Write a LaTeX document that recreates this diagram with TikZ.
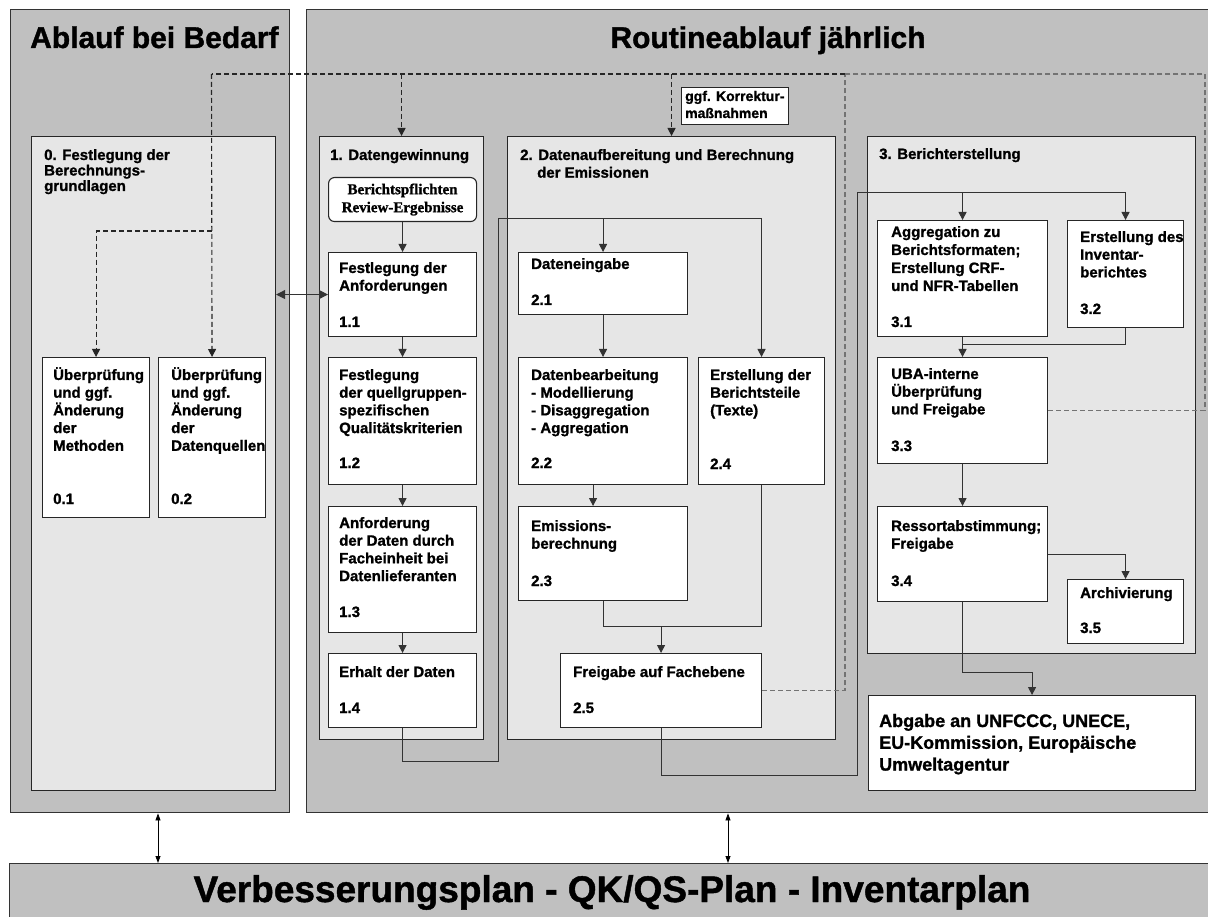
\documentclass[tikz,border=0pt]{standalone}
\usepackage{fontspec}
\setmainfont{Liberation Sans}[BoldFeatures={FakeBold=1.2}]
\newfontfamily\serifb{Liberation Serif}[BoldFeatures={FakeBold=1.2}]
\usetikzlibrary{arrows.meta,calc}
\definecolor{outerfill}{RGB}{192,192,192}
\definecolor{innerfill}{RGB}{230,230,230}
\newcommand\ml[2][17.7pt]{\vtop{\lineskiplimit=-30pt\baselineskip=#1\relax\let\\\cr\halign{##\hfil\cr#2\crcr}}}
\newcommand\bx[6]{\pgfmathsetmacro\bw{#5-#3}\pgfmathsetmacro\bh{#6-#4}\node[#1,anchor=north west,inner sep=0pt,minimum width=\bw pt,minimum height=\bh pt] (#2) at (#3,#4) {};}
\newcommand\tx[4]{\node[txt] (#1) at (#2,#3) {\ml{#4}};}
\begin{document}
\begin{tikzpicture}[x=1pt,y=-1pt,
  outer/.style={draw=black!80,line width=1.4pt,fill=outerfill},
  sect/.style={draw=black!85,line width=1.1pt,fill=innerfill},
  wbox/.style={draw=black!85,line width=1.1pt,fill=white},
  txt/.style={inner sep=0pt,anchor=base west,font=\fontsize{15}{17.7}\selectfont\bfseries},
  title/.style={inner sep=0pt,font=\fontsize{30}{36}\selectfont\bfseries},
  bandtxt/.style={inner sep=0pt,font=\fontsize{37}{44}\selectfont\bfseries},
  conn/.style={draw=black!80,line width=1pt},
  arr/.style={conn,-{Triangle[length=8pt,width=8pt]}},
  dbl/.style={conn,{Triangle[length=9pt,width=9pt]}-{Triangle[length=9pt,width=9pt]}},
  dbltwo/.style={draw=black,line width=0.8pt,{Triangle[length=7pt,width=5pt]}-{Triangle[length=7pt,width=5pt]}},
  dsh/.style={draw=black!85,line width=1.1pt,dash pattern=on 5pt off 3pt},
  dshg/.style={dsh,draw=black!55},
  dshar/.style={dsh,-{Triangle[length=8pt,width=8pt]}}
]
\useasboundingbox (0,0) rectangle (1208,917);
% outer frames
\bx{outer}{outerL}{10}{9}{289}{812}
\bx{outer}{outerR}{306}{9}{1212}{812}
\bx{outer}{band}{9}{863}{1212}{922}
\node[title,anchor=base west] (tL) at (30,48) {Ablauf bei Bedarf};
\node[title,anchor=base] (tR) at (768,48) {Routineablauf jährlich};
\node[bandtxt,anchor=base] (tB) at (612,902) {Verbesserungsplan - QK/QS-Plan - Inventarplan};
% sections
\bx{sect}{sec0}{31}{136}{275}{790}
\bx{sect}{sec1}{319}{136}{483}{739}
\bx{sect}{sec2}{507}{136}{835}{739}
\bx{sect}{sec3}{867}{136}{1195}{653}
\bx{wbox}{kor}{681}{87}{788}{124}
\node[inner sep=0pt,anchor=base west,font=\fontsize{14}{17}\selectfont\bfseries] (tkor) at (685,101) {\ml[17pt]{ggf. Korrektur-\\maßnahmen}};
\node[txt] (ts0) at (44,160) {\ml[15.5pt]{0. Festlegung der\\Berechnungs-\\grundlagen}};
\tx{ts1}{330}{160}{1. Datengewinnung}
\tx{ts2}{520}{160}{2. Datenaufbereitung und Berechnung\\\hspace*{17pt}der Emissionen}
\tx{ts3}{879}{159}{3. Berichterstellung}
% white boxes
\bx{wbox}{b01}{42}{357}{149}{517}
\bx{wbox}{b02}{158}{357}{265}{517}
\bx{wbox}{b11}{328}{252}{476}{336}
\bx{wbox}{b12}{328}{357}{476}{484}
\bx{wbox}{b13}{328}{506}{476}{632}
\bx{wbox}{b14}{328}{653}{476}{727}
\bx{wbox}{b21}{518}{252}{687}{314}
\bx{wbox}{b22}{518}{357}{687}{484}
\bx{wbox}{b23}{518}{506}{687}{600}
\bx{wbox}{b24}{698}{357}{824}{484}
\bx{wbox}{b25}{560}{653}{761}{727}
\bx{wbox}{b31}{877}{220}{1047}{336}
\bx{wbox}{b32}{1067}{220}{1183}{327}
\bx{wbox}{b33}{877}{357}{1047}{463}
\bx{wbox}{b34}{877}{506}{1047}{601}
\bx{wbox}{b35}{1067}{579}{1183}{643}
\bx{wbox}{abg}{868}{695}{1195}{790}
\node[wbox,rounded corners=6pt,anchor=north west,inner sep=0pt,minimum width=148pt,minimum height=44pt,align=center,font=\serifb\bfseries\fontsize{15}{18}\selectfont] (rb) at (328,177) {Berichtspflichten\\Review-Ergebnisse};
% texts
\tx{t01}{53}{380}{Überprüfung\\und ggf.\\Änderung\\der\\Methoden}
\tx{n01}{53}{504}{0.1}
\tx{t02}{171}{380}{Überprüfung\\und ggf.\\Änderung\\der\\Datenquellen}
\tx{n02}{171}{504}{0.2}
\tx{t11}{339}{273}{Festlegung der\\Anforderungen}
\tx{n11}{339}{327}{1.1}
\tx{t12}{339}{380}{Festlegung\\der quellgruppen-\\spezifischen\\Qualitätskriterien}
\tx{n12}{339}{468}{1.2}
\tx{t13}{339}{528}{Anforderung\\der Daten durch\\Facheinheit bei\\Datenlieferanten}
\tx{n13}{339}{617}{1.3}
\tx{t14}{339}{677}{Erhalt der Daten}
\tx{n14}{339}{713}{1.4}
\tx{t21}{531}{269}{Dateneingabe}
\tx{n21}{531}{305}{2.1}
\tx{t22}{531}{380}{Datenbearbeitung\\- Modellierung\\- Disaggregation\\- Aggregation}
\tx{n22}{531}{468}{2.2}
\tx{t23}{531}{531}{Emissions-\\berechnung}
\tx{n23}{531}{586}{2.3}
\tx{t24}{710}{380}{Erstellung der\\Berichtsteile\\(Texte)}
\tx{n24}{710}{469}{2.4}
\tx{t25}{573}{677}{Freigabe auf Fachebene}
\tx{n25}{573}{713}{2.5}
\node[txt] (t31) at (891,237) {\ml[18pt]{Aggregation zu\\Berichtsformaten;\\Erstellung CRF-\\und NFR-Tabellen}};
\tx{n31}{891}{327}{3.1}
\tx{t32}{1080}{242}{Erstellung des\\Inventar-\\berichtes}
\tx{n32}{1080}{314}{3.2}
\tx{t33}{891}{379}{UBA-interne\\Überprüfung\\und Freigabe}
\tx{n33}{891}{451}{3.3}
\tx{t34}{891}{531}{Ressortabstimmung;\\Freigabe}
\tx{n34}{891}{586}{3.4}
\tx{t35}{1080}{598}{Archivierung}
\tx{n35}{1080}{633}{3.5}
\node[inner sep=0pt,anchor=base west,font=\fontsize{18}{21.5}\selectfont\bfseries] (tabg) at (879,727) {\ml[21.8pt]{Abgabe an UNFCCC, UNECE,\\EU-Kommission, Europäische\\Umweltagentur}};
% solid connectors
\draw[arr] (rb.south) -- (b11.north);
\draw[arr] (b11.south) -- (b12.north);
\draw[arr] (b12.south) -- (b13.north);
\draw[arr] (b13.south) -- (b14.north);
\coordinate (j1) at (498,761);
\coordinate (j2) at (498,219);
\draw[arr] (b14.south) |- (j1) -- (j2) -| (b24.north);
\draw[arr] (j2 -| b21.north) -- (b21.north);
\draw[arr] (b21.south) -- (b22.north);
\draw[arr] ($(b22.south)+(-10,0)$) -- ($(b23.north)+(-10,0)$);
\coordinate (j3) at (0,626);
\draw[conn] (b23.south) -- (b23.south |- j3) -- (b24.south |- j3) -- (b24.south);
\draw[arr] (b25.north |- j3) -- (b25.north);
\coordinate (j4) at (857,775);
\coordinate (j5) at (857,193);
\draw[arr] (b25.south) |- (j4) -- (j5) -| (b32.north);
\draw[arr] (j5 -| b31.north) -- (b31.north);
\draw[arr] (b31.south) -- (b33.north);
\coordinate (j6) at (0,345);
\draw[conn] (b32.south) -- (b32.south |- j6) -- (b33.north |- j6);
\draw[arr] (b33.south) -- (b34.north);
\draw[arr] (b34.east) -| (b35.north);
\coordinate (j7) at (0,672);
\draw[arr] (b34.south) -- (b34.south |- j7) -| (abg.north);
\draw[dbl] (sec0.east |- b11.west) -- (b11.west);
% dashed feedback
\coordinate (dL) at (211.5,74);
\coordinate (dR) at (1205,74);
\coordinate (dM) at (845,74);
\coordinate (dB) at (211.5,231);
\draw[dshg] (b33.east) -| (dR) -- (dM);
\draw[dshg] (b25.east) -| (dM);
\draw[dsh] (dM) -- (dL);
\draw[dshar] (dL) -- (b02.north);
\draw[dshar] (dB) -| (b01.north);
\draw[dshar] (dL -| sec1.north) -- (sec1.north);
\draw[dshar] (dL -| sec2.north) -- (sec2.north);
% links to the plan band
\coordinate (v1) at (158,0);
\coordinate (v2) at (728,0);
\draw[dbltwo] (outerL.south -| v1) -- (band.north -| v1);
\draw[dbltwo] (outerR.south -| v2) -- (band.north -| v2);
\end{tikzpicture}
\end{document}
